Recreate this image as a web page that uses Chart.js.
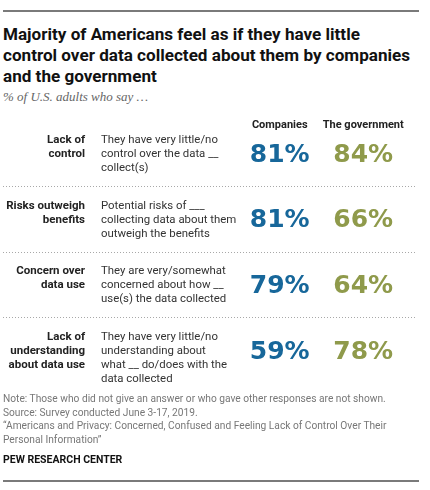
<!DOCTYPE html>
<html>
<head>
<meta charset="utf-8">
<script src="https://cdn.jsdelivr.net/npm/chart.js@4.4.1/dist/chart.umd.min.js"></script>
<style>
  body { margin: 0; background: #fff; width: 430px; height: 490px; position: relative; overflow: hidden; font-family: Roboto, "Liberation Sans", sans-serif; }
  .rule { position: absolute; left: 3px; width: 416px; height: 0; border-top: 2px solid #7a7a7a; }
  #title { position: absolute; left: 3px; top: 24px; font-size: 17.1px; line-height: 21px; font-weight: bold; color: #111; }
  #subtitle { position: absolute; left: 3px; top: 89px; font-family: "Liberation Serif", "DejaVu Serif", serif; font-style: italic; font-size: 13px; line-height: 16px; color: #666; }
  #chartBox { position: absolute; left: 0; top: 80px; width: 430px; height: 320px; }
  #notes { position: absolute; left: 3px; top: 392px; font-size: 10.2px; line-height: 13.7px; color: #777; }
  #credit { position: absolute; left: 3px; top: 453px; font-size: 10.5px; line-height: 14px; font-weight: bold; color: #111; }
</style>
</head>
<body>
<div class="rule" style="top:10px"></div>
<div id="title">Majority of Americans feel as if they have little<br>control over data collected about them by companies<br>and the government</div>
<div id="subtitle">% of U.S. adults who say …</div>
<div id="chartBox"><canvas id="tableCanvas"></canvas></div>
<div id="notes">Note: Those who did not give an answer or who gave other responses are not shown.<br>Source: Survey conducted June 3-17, 2019.<br>“Americans and Privacy: Concerned, Confused and Feeling Lack of Control Over Their<br>Personal Information”</div>
<div id="credit">PEW RESEARCH CENTER</div>
<div class="rule" style="top:480px"></div>

<script>
// Dados do gráfico
const columns = ['Companies', 'The government'];
const rowKeys = ['control', 'risks', 'concern', 'understanding'];
const rowLabels = [
  ['Lack of', 'control'],
  ['Risks outweigh', 'benefits'],
  ['Concern over', 'data use'],
  ['Lack of', 'understanding', 'about data use']
];
const descriptions = [
  ['They have very little/no', 'control over the data __', 'collect(s)'],
  ['Potential risks of ___', 'collecting data about them', 'outweigh the benefits'],
  ['They are very/somewhat', 'concerned about how __', 'use(s) the data collected'],
  ['They have very little/no', 'understanding about', 'what __ do/does with the', 'data collected']
];
const companies = [81, 81, 79, 59];
const government = [84, 66, 64, 78];

const BLUE = '#17679a';
const GREEN = '#8f9a4b';

function points(column, values) {
  return values.map((v, i) => ({ x: column, y: rowKeys[i], v: v }));
}

// Desenha rótulos, descrições, separadores e os números
const tablePlugin = {
  id: 'tablePlugin',
  afterDatasetsDraw(chart) {
    const ctx = chart.ctx;
    const yScale = chart.scales.y;
    const centers = rowKeys.map((k, i) => yScale.getPixelForValue(i));
    ctx.save();

    // separadores pontilhados
    ctx.strokeStyle = '#a8a8a8';
    ctx.lineWidth = 1;
    ctx.setLineDash([1, 2]);
    for (let i = 0; i < centers.length - 1; i++) {
      const y = Math.round((centers[i] + centers[i + 1]) / 2 - 1) + 0.5;
      ctx.beginPath();
      ctx.moveTo(3, y);
      ctx.lineTo(415, y);
      ctx.stroke();
    }
    ctx.setLineDash([]);

    // rótulos e descrições
    ctx.textBaseline = 'middle';
    centers.forEach((c, i) => {
      ctx.fillStyle = '#222';
      ctx.font = 'bold 11.5px Roboto, "Liberation Sans", sans-serif';
      ctx.textAlign = 'right';
      rowLabels[i].forEach((line, j) => ctx.fillText(line, 85, c - 14 + j * 14));
      ctx.font = '11.4px Roboto, "Liberation Sans", sans-serif';
      ctx.fillStyle = '#333';
      ctx.textAlign = 'left';
      descriptions[i].forEach((line, j) => ctx.fillText(line, 101, c - 14 + j * 14));
    });

    // valores
    ctx.font = 'bold 25px "DejaVu Sans", sans-serif';
    ctx.textAlign = 'center';
    chart.data.datasets.forEach((ds, di) => {
      const meta = chart.getDatasetMeta(di);
      ctx.fillStyle = ds.textColor;
      meta.data.forEach((el, i) => {
        ctx.fillText(ds.data[i].v + '%', el.x, el.y + 1);
      });
    });
    ctx.restore();
  }
};

document.addEventListener('DOMContentLoaded', function() {
  const ctx = document.getElementById('tableCanvas').getContext('2d');
  new Chart(ctx, {
    type: 'scatter',
    data: {
      datasets: [
        { label: columns[0], data: points(columns[0], companies), textColor: BLUE, pointRadius: 0 },
        { label: columns[1], data: points(columns[1], government), textColor: GREEN, pointRadius: 0 }
      ]
    },
    options: {
      responsive: true,
      maintainAspectRatio: false,
      animation: false,
      layout: { padding: { top: 17, left: 238, right: 17, bottom: 49 } },
      plugins: {
        legend: { display: false },
        tooltip: { enabled: false }
      },
      scales: {
        x: {
          type: 'category',
          labels: columns,
          position: 'top',
          offset: true,
          grid: { display: false, drawTicks: false },
          border: { display: false },
          ticks: {
            color: '#222',
            padding: 22,
            font: { family: 'Roboto', weight: 'bold', size: 11 }
          }
        },
        y: {
          type: 'category',
          labels: rowKeys,
          offset: false,
          display: false
        }
      }
    },
    plugins: [tablePlugin]
  });
});
</script>
</body>
</html>
